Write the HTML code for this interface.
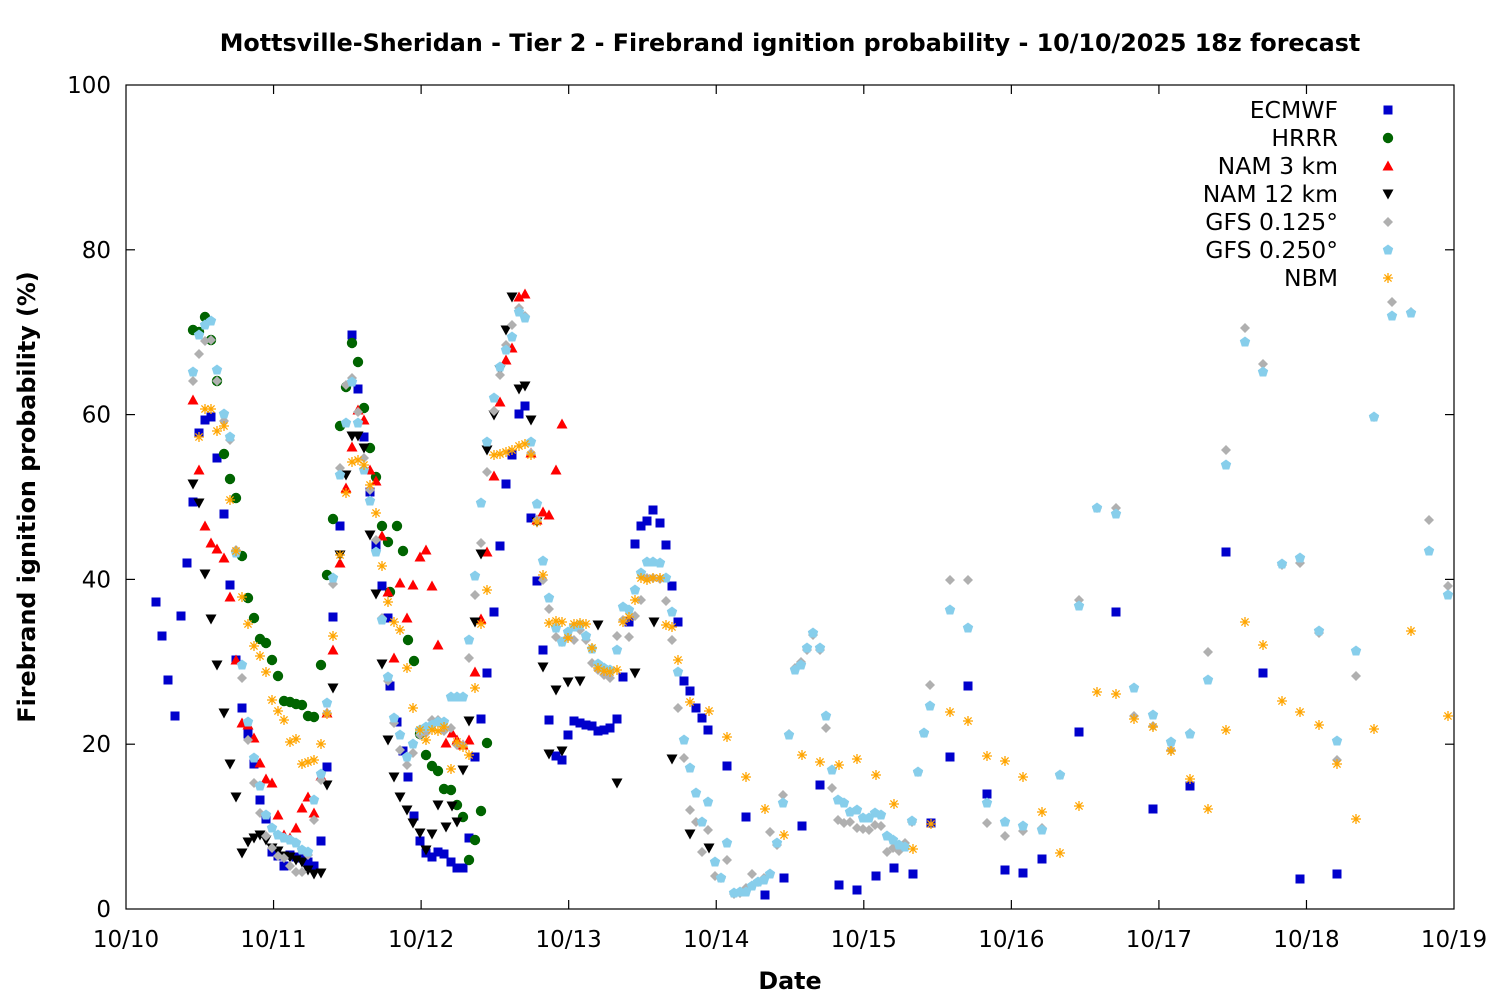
<!DOCTYPE html>
<html><head><meta charset="utf-8"><style>
html,body{margin:0;padding:0;background:#fff}
svg{display:block;font-family:"DejaVu Sans","Liberation Sans",sans-serif}
</style></head><body>
<svg id="s" width="1500" height="1000" xmlns="http://www.w3.org/2000/svg">
<rect width="1500" height="1000" fill="#fff"/>
<text x="790" y="51" text-anchor="middle" font-size="23.8" font-weight="bold">Mottsville-Sheridan - Tier 2 - Firebrand ignition probability - 10/10/2025 18z forecast</text>
<rect x="126" y="85" width="1328" height="824" fill="none" stroke="#000" stroke-width="1.2"/>
<g id="ticks" stroke="#000" stroke-width="1.2"></g>
<g id="lab" font-size="23"></g>
<text x="790" y="989" text-anchor="middle" font-size="23.8" font-weight="bold">Date</text>
<text transform="translate(35,497) rotate(-90)" text-anchor="middle" font-size="23.8" font-weight="bold">Firebrand ignition probability (%)</text>
<g id="pts"></g>
<g id="leg" font-size="23.5" text-anchor="end"></g>
</svg>
<script>
const NS="http://www.w3.org/2000/svg";
function el(t,a,p,txt){const e=document.createElementNS(NS,t);for(const k in a)e.setAttribute(k,a[k]);if(txt!==undefined)e.textContent=txt;document.getElementById(p).appendChild(e);return e;}
for(let i=0;i<=5;i++){const y=909-i*164.8;
 if(i>0&&i<5){el('line',{x1:126,y1:y,x2:135,y2:y},'ticks');el('line',{x1:1454,y1:y,x2:1445,y2:y},'ticks');}
 el('text',{x:111,y:y+8,'text-anchor':'end'},'lab',String(i*20));}
for(let i=0;i<=9;i++){const x=126+i*147.56;
 if(i>0&&i<9){el('line',{x1:x,y1:909,x2:x,y2:900},'ticks');el('line',{x1:x,y1:85,x2:x,y2:94},'ticks');}
 el('text',{x:x,y:947,'text-anchor':'middle'},'lab','10/'+(10+i));}
function mark(type,x,y,c){
 if(type=='sq')el('rect',{x:x-4.5,y:y-4.5,width:9,height:9,fill:c},'pts');
 else if(type=='ci')el('circle',{cx:x,cy:y,r:5.2,fill:c},'pts');
 else if(type=='up')el('polygon',{points:`${x-5.5},${y+4.5} ${x+5.5},${y+4.5} ${x},${y-5.5}`,fill:c},'pts');
 else if(type=='dn')el('polygon',{points:`${x-5.5},${y-4.5} ${x+5.5},${y-4.5} ${x},${y+5.5}`,fill:c},'pts');
 else if(type=='di')el('polygon',{points:`${x},${y-5} ${x+5},${y} ${x},${y+5} ${x-5},${y}`,fill:c},'pts');
 else if(type=='pe')el('polygon',{points:`${x},${y-5.5} ${x+5.2},${y-1.7} ${x+3.2},${y+4.5} ${x-3.2},${y+4.5} ${x-5.2},${y-1.7}`,fill:c},'pts');
 else if(type=='as'){const d=`M${x-5},${y}H${x+5}M${x},${y-5}V${y+5}M${x-3.6},${y-3.6}L${x+3.6},${y+3.6}M${x-3.6},${y+3.6}L${x+3.6},${y-3.6}`;el('path',{d:d,stroke:c,'stroke-width':1.3,fill:'none'},'pts');}
}
function P(s){const a=s.split(/[(),\s]+/).filter(v=>v).map(Number);const r=[];for(let i=0;i<a.length;i+=2)r.push([a[i],a[i+1]]);return r;}
const S=[
['sq','#0000cc',P(`(156,602),(162,636),(168,680),(175,716),(181,616),(187,563),(193,502),(199,433),(205,420),(211,417),(217,458),(224,514),(230,585),(236,660),(242,708),(248,734),(254,764),(260,800),(266,819),(272,852),(278,856),(284,866),(290,855),(296,857),(302,858),(308,862),(314,866),(321,841),(327,767),(333,617),(340,526),(352,335),(358,389),(364,437),(370,492),(376,545),(382,586),(388,618),(390,686),(397,722),(403,751),(408,777),(414,816),(420,841),(426,853),(432,857),(438,852),(444,854),(451,862),(457,868),(463,868),(469,838),(475,757),(481,719),(487,673),(494,612),(500,546),(506,484),(512,455),(519,414),(525,406),(531,518),(537,581),(543,650),(549,720),(556,756),(562,760),(568,735),(574,721),(580,723),(586,725),(592,726),(598,731),(604,730),(610,728),(617,719),(623,677),(629,622),(635,544),(641,526),(647,521),(653,510),(660,523),(666,545),(672,586),(678,622),(684,681),(690,691),(696,708),(702,718),(708,730),(727,766),(746,817),(765,895),(784,878),(802,826),(820,785),(839,885),(857,890),(876,876),(894,868),(913,874),(931,823),(950,757),(968,686),(987,794),(1005,870),(1023,873),(1042,859),(1079,732),(1116,612),(1153,809),(1190,786),(1226,552),(1263,673),(1300,879),(1337,874)`)],
['ci','#006400',P(`(193,330),(199,332),(205,317),(211,340),(217,381),(224,454),(230,479),(236,498),(242,556),(248,598),(254,618),(260,639),(266,643),(272,660),(278,676),(284,701),(290,702),(296,704),(302,705),(308,716),(314,717),(321,665),(327,575),(333,519),(340,426),(346,387),(352,343),(358,362),(364,408),(370,448),(376,477),(382,526),(388,542),(390,592),(397,526),(403,551),(408,640),(414,661),(420,734),(426,755),(432,766),(438,771),(444,789),(451,790),(457,805),(463,817),(469,860),(475,840),(481,811),(487,743)`)],
['up','#ff0000',P(`(193,400),(199,470),(205,526),(211,543),(217,549),(224,558),(230,597),(236,660),(242,723),(248,725),(254,738),(260,763),(266,779),(272,783),(278,815),(284,835),(290,838),(296,828),(302,808),(308,797),(314,813),(321,776),(327,713),(333,650),(340,563),(346,488),(352,447),(358,410),(364,420),(370,470),(376,481),(382,536),(388,592),(394,658),(400,583),(407,618),(413,585),(420,557),(426,550),(432,586),(438,645),(446,743),(452,733),(457,740),(463,745),(469,740),(475,672),(481,619),(487,552),(494,476),(500,402),(506,360),(512,348),(519,297),(525,294),(531,453),(537,520),(543,512),(549,515),(556,470),(562,424)`)],
['dn','#000000',P(`(193,484),(199,503),(205,574),(211,619),(217,665),(224,713),(230,764),(236,797),(242,853),(248,842),(254,838),(260,835),(266,840),(272,848),(278,851),(284,856),(290,857),(296,860),(302,862),(308,870),(314,874),(321,873),(327,785),(333,688),(340,555),(346,475),(352,436),(358,436),(364,448),(370,535),(376,594),(382,664),(388,740),(394,777),(400,797),(407,810),(413,823),(420,833),(426,850),(432,834),(438,805),(446,827),(452,806),(457,822),(463,770),(469,721),(475,622),(481,554),(487,450),(494,415),(500,370),(506,330),(512,297),(519,389),(525,386),(531,420),(537,522),(543,667),(549,754),(556,690),(562,751),(568,682),(580,681),(598,625),(617,783),(635,673),(654,622),(672,759),(690,834),(709,848)`)],
['di','#b0b0b0',P(`(193,381),(199,354),(205,341),(211,340),(217,381),(224,421),(230,440),(236,550),(242,678),(248,740),(254,783),(260,813),(266,836),(272,848),(278,856),(284,858),(290,866),(296,872),(302,872),(308,855),(314,820),(321,780),(327,713),(333,584),(340,468),(346,385),(352,378),(358,412),(364,458),(370,490),(376,540),(382,618),(388,681),(394,723),(400,750),(407,765),(413,753),(420,735),(426,733),(432,720),(438,720),(444,731),(451,728),(457,745),(463,745),(469,658),(475,595),(481,543),(487,472),(494,411),(500,375),(506,345),(512,325),(519,308),(525,316),(531,453),(537,520),(543,580),(549,609),(556,637),(562,642),(568,637),(574,640),(580,630),(586,640),(592,663),(598,670),(604,675),(610,678),(617,636),(623,620),(629,637),(635,616),(641,600),(647,578),(653,578),(660,579),(666,601),(672,640),(678,708),(684,758),(690,810),(696,822),(702,852),(708,830),(715,876),(721,878),(727,860),(734,894),(740,893),(746,888),(752,874),(758,882),(764,878),(770,832),(777,845),(783,795),(789,734),(795,668),(801,662),(807,650),(813,635),(820,650),(826,728),(832,788),(838,820),(844,823),(850,822),(857,828),(863,829),(869,830),(875,825),(881,826),(887,852),(893,848),(899,851),(905,843),(912,822),(918,772),(924,733),(930,685),(950,580),(968,580),(987,823),(1005,836),(1023,831),(1042,828),(1060,775),(1079,600),(1097,508),(1116,508),(1134,716),(1153,726),(1171,750),(1190,733),(1208,652),(1226,450),(1245,328),(1263,364),(1282,565),(1300,563),(1319,633),(1337,760),(1356,676),(1374,417),(1392,302),(1411,312),(1429,520),(1448,586)`)],
['pe','#87ceeb',P(`(193,372),(199,335),(205,325),(211,321),(217,370),(224,414),(230,437),(236,553),(242,665),(248,722),(254,758),(260,786),(266,815),(272,828),(278,835),(284,838),(290,840),(296,843),(302,850),(308,852),(314,800),(321,774),(327,703),(333,578),(340,475),(346,423),(352,382),(358,423),(364,470),(370,501),(376,552),(382,620),(388,677),(394,718),(400,735),(407,757),(413,744),(420,730),(426,727),(432,725),(438,722),(444,722),(451,697),(457,697),(463,697),(469,640),(475,576),(481,503),(487,442),(494,398),(500,367),(506,350),(512,337),(519,312),(525,318),(531,442),(537,504),(543,561),(549,598),(556,628),(562,642),(568,632),(574,627),(580,625),(586,636),(592,649),(598,664),(604,668),(610,670),(617,650),(623,607),(629,610),(635,590),(641,573),(647,562),(653,562),(660,563),(666,578),(672,612),(678,672),(684,740),(690,768),(696,793),(702,822),(708,802),(715,862),(721,878),(727,843),(734,893),(740,892),(746,892),(752,886),(758,882),(764,880),(770,874),(777,843),(783,803),(789,735),(795,670),(801,665),(807,648),(813,633),(820,648),(826,716),(832,770),(838,800),(844,803),(850,812),(857,810),(863,818),(869,818),(875,813),(881,815),(887,836),(893,840),(899,845),(905,847),(912,821),(918,772),(924,733),(930,706),(950,610),(968,628),(987,803),(1005,822),(1023,826),(1042,830),(1060,775),(1079,606),(1097,508),(1116,514),(1134,688),(1153,715),(1171,742),(1190,734),(1208,680),(1226,465),(1245,342),(1263,372),(1282,564),(1300,558),(1319,631),(1337,741),(1356,651),(1374,417),(1392,316),(1411,313),(1429,551),(1448,595)`)],
['as','#ffa500',P(`(199,437),(205,409),(211,409),(217,431),(224,426),(230,500),(236,551),(242,597),(248,624),(254,646),(260,656),(266,672),(272,700),(278,711),(284,720),(290,742),(296,739),(302,764),(308,762),(314,760),(321,744),(327,714),(333,636),(340,555),(346,493),(352,462),(358,460),(364,465),(370,485),(376,513),(382,566),(388,602),(394,622),(400,630),(407,668),(413,708),(420,730),(426,740),(432,730),(438,731),(444,727),(451,769),(457,742),(463,747),(469,755),(475,688),(481,624),(487,590),(494,455),(500,454),(506,452),(512,450),(519,446),(525,444),(531,455),(537,522),(543,575),(549,623),(556,621),(562,622),(568,638),(574,624),(580,623),(586,624),(592,648),(598,668),(604,671),(610,672),(617,670),(623,622),(629,617),(635,600),(641,578),(647,580),(653,578),(660,578),(666,625),(672,627),(678,660),(690,702),(709,711),(727,737),(746,777),(765,809),(784,835),(802,755),(820,762),(839,765),(857,759),(876,775),(894,804),(913,849),(931,824),(950,712),(968,721),(987,756),(1005,761),(1023,777),(1042,812),(1060,853),(1079,806),(1097,692),(1116,694),(1134,719),(1153,727),(1171,751),(1190,779),(1208,809),(1226,730),(1245,622),(1263,645),(1282,701),(1300,712),(1319,725),(1337,764),(1356,819),(1374,729),(1411,631),(1448,716)`)]
];
for(const [t,c,pts] of S)for(const [x,y] of pts)mark(t,x,y,c);
const L=['ECMWF','HRRR','NAM 3 km','NAM 12 km','GFS 0.125°','GFS 0.250°','NBM'];
L.forEach((n,i)=>{const y=110+i*28;el('text',{x:1338,y:y+8},'leg',n);mark(S[i][0],1388,y,S[i][1]);});
</script>
</body></html>
